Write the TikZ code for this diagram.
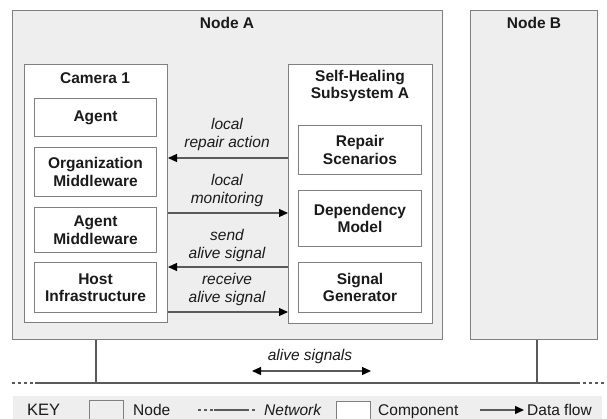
\documentclass[tikz,border=0pt]{standalone}
\usepackage{fontspec}
\setmainfont{Liberation Sans}
\usetikzlibrary{arrows.meta}
\definecolor{bg}{HTML}{EEEEEE}
\definecolor{edge}{HTML}{808080}
\definecolor{ink}{HTML}{1A1A1A}
\definecolor{net}{HTML}{5A5A5A}
\begin{document}
\begin{tikzpicture}[x=1pt,y=-1pt,
  nodebox/.style={draw=edge, fill=bg, line width=1pt, anchor=north west, inner sep=0pt},
  compbox/.style={draw=edge, fill=white, line width=1pt, anchor=north west, inner sep=0pt,
    font=\fontsize{15.5}{17.5}\selectfont\bfseries, text=ink, align=center, text width=#1},
  compbox/.default=118pt,
  titletext/.style={font=\fontsize{15.5}{17.5}\selectfont\bfseries, text=ink, align=center, inner sep=0pt},
  lbl/.style={font=\fontsize{15.5}{18}\selectfont\itshape, text=ink, align=center, inner sep=0pt},
  keytext/.style={font=\fontsize{15.5}{17}\selectfont, text=ink, inner sep=0pt, anchor=base west},
  head/.tip={Triangle[length=9pt,width=8pt,color=black,fill=black]},
  flow/.style={draw=net, line width=1.2pt, -head},
  netline/.style={draw=net, line width=1.4pt},
  netdash/.style={draw=net, line width=1.4pt, dash pattern=on 3pt off 3pt}
]
\useasboundingbox (0,0) rectangle (607,419);

% nodes
\node[nodebox, minimum width=430pt, minimum height=329pt] (nodeA) at (12,10) {};
\node[nodebox, minimum width=127pt, minimum height=329pt] (nodeB) at (470,10) {};
\node[titletext] (nodeAt) at (227,23) {Node A};
\node[titletext] (nodeBt) at (534,23) {Node B};

% camera
\node[draw=edge, fill=white, line width=1pt, anchor=north west, inner sep=0pt,
      minimum width=143pt, minimum height=258pt] (cam) at (24,64) {};
\node[titletext] (camt) at (95,78) {Camera 1};
\node[compbox, minimum width=122pt, minimum height=38pt] (agent) at (34,98) {Agent};
\node[compbox, minimum width=122pt, minimum height=49pt] (org) at (34,147) {Organization\\Middleware};
\node[compbox, minimum width=122pt, minimum height=45pt] (amw) at (34,207) {Agent\\Middleware};
\node[compbox, minimum width=122pt, minimum height=50pt] (host) at (34,262) {Host\\Infrastructure};

% self-healing subsystem
\node[draw=edge, fill=white, line width=1pt, anchor=north west, inner sep=0pt,
      minimum width=144pt, minimum height=259pt] (shs) at (288,64) {};
\node[titletext] (shst) at (360,86) {Self-Healing\\Subsystem A};
\node[compbox, minimum width=123pt, minimum height=49pt] (repair) at (298,125) {Repair\\Scenarios};
\node[compbox, minimum width=123pt, minimum height=56pt] (dep) at (298,190) {Dependency\\Model};
\node[compbox, minimum width=123pt, minimum height=50pt] (sig) at (298,262) {Signal\\Generator};

% data flows
\coordinate (fa) at (227,158);
\coordinate (fb) at (227,213);
\coordinate (fc) at (227,267);
\coordinate (fd) at (227,312);
\draw[flow] (shs.west |- fa) -- (cam.east |- fa);
\draw[flow] (cam.east |- fb) -- (shs.west |- fb);
\draw[flow] (shs.west |- fc) -- (cam.east |- fc);
\draw[flow] (cam.east |- fd) -- (shs.west |- fd);
\node[lbl] (la) at (227,134.5) {local\\repair action};
\node[lbl] (lb) at (227,190) {local\\monitoring};
\node[lbl] (lc) at (227,245.5) {send\\alive signal};
\node[lbl] (ld) at (227,289.5) {receive\\alive signal};

% network
\coordinate (dropA) at (96,383);
\coordinate (dropB) at (537,383);
\coordinate (netL) at (12,383);
\coordinate (netL2) at (35,383);
\coordinate (netR2) at (577,383);
\coordinate (netR) at (607,383);
\draw[netdash] (netL) -- (netL2);
\draw[netline] (netL2) -- (netR2);
\draw[netdash] (netR2) -- (netR);
\draw[netline] (dropA |- nodeA.south) -- (dropA);
\draw[netline] (dropB |- nodeB.south) -- (dropB);
\node[lbl] (alive) at (310,356) {alive signals};
\coordinate (asL) at (252,371);
\coordinate (asR) at (371,371);
\draw[draw=net, line width=1.2pt, head-head] (asL) -- (asR);

% key
\node[fill=bg, anchor=north west, inner sep=0pt, minimum width=589pt, minimum height=30pt] (keybar) at (13,396) {};
\node[keytext, font=\fontsize{16.5}{18}\selectfont] (keyt) at (27,415.5) {KEY};
\node[draw=edge, fill=bg, line width=1pt, anchor=north west, inner sep=0pt,
      minimum width=34pt, minimum height=30pt] (keynode) at (89,400) {};
\node[keytext] (keynodet) at (133,415) {Node};
\coordinate (kn1) at (198,410);
\coordinate (kn2) at (214,410);
\coordinate (kn3) at (246,410);
\coordinate (kn4) at (257,410);
\draw[draw=net, line width=1.2pt, dash pattern=on 3pt off 3pt] (kn1) -- (kn2);
\draw[draw=net, line width=1.2pt] (kn2) -- (kn3);
\draw[draw=net, line width=1.2pt, dash pattern=on 3pt off 3pt] (kn3) -- (kn4);
\node[keytext, font=\fontsize{15.5}{17}\selectfont\itshape] (keynett) at (264,415) {Network};
\node[draw=edge, fill=white, line width=1pt, anchor=north west, inner sep=0pt,
      minimum width=34pt, minimum height=30pt] (keycomp) at (336,401) {};
\node[keytext] (keycompt) at (378,415) {Component};
\coordinate (kf1) at (480,410);
\coordinate (kf2) at (524,410);
\draw[flow] (kf1) -- (kf2);
\node[keytext] (keyflowt) at (527,415) {Data flow};
\end{tikzpicture}
\end{document}
